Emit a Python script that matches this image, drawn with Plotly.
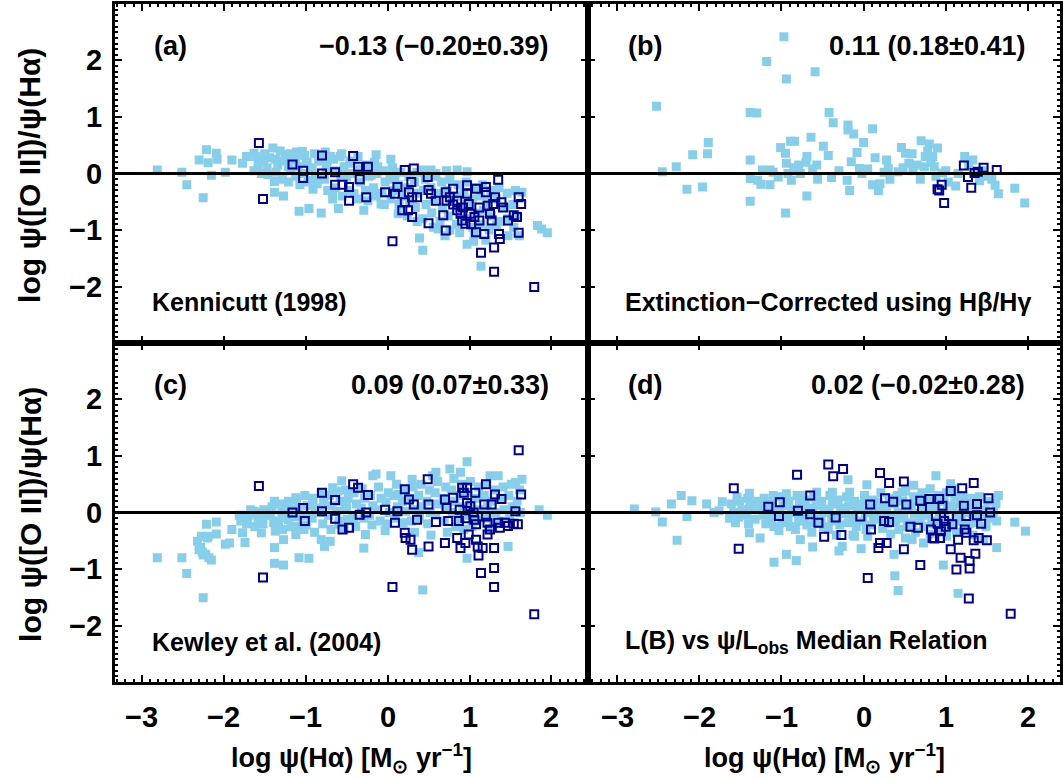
import plotly.graph_objects as go
from plotly.subplots import make_subplots

W, H = 1063, 780

# ---------------------------------------------------------------------------
# Data: (log SFR(Halpha), log SFR([O II])/SFR(Halpha)) pairs per panel.
# "field" = full comparison sample (filled), "deep" = second sample (open).
# ---------------------------------------------------------------------------
A_FIELD = [
    (-2.81, 0.06), (-2.51, 0.02), (-2.45, -0.20), (-2.30, 0.24), (-2.25, -0.43),
    (-2.21, 0.42), (-2.19, 0.19), (-2.15, -0.03), (-2.09, 0.36), (-2.08, 0.25),
    (-1.98, 0.02), (-1.90, 0.24), (-1.77, 0.18), (-1.72, 0.30), (-1.63, 0.36),
    (-1.54, 0.00), (-1.50, 0.35), (-1.40, 0.45), (-1.37, 0.25), (-1.38, -0.14),
    (-1.38, -0.33), (-1.27, -0.40), (-1.25, 0.33), (-1.21, 0.12), (-1.12, 0.24),
    (-1.08, -0.67), (-1.04, 0.39), (-0.96, -0.62), (-0.98, 0.18), (-0.91, -0.12),
    (-0.81, -0.70), (-0.81, 0.30), (-0.75, 0.06), (-0.70, 0.30), (-0.67, -0.36),
    (-0.60, -0.62), (-0.58, 0.30), (-0.54, 0.06), (-0.50, -0.06), (-0.45, 0.18),
    (-0.41, -0.36), (-0.29, -0.65), (-0.24, -0.48), (-0.20, -0.03), (-0.14, 0.33),
    (-0.12, 0.12), (-0.08, -0.54), (0.04, 0.25), (0.05, 0.06), (0.09, -0.06),
    (0.13, -0.71), (0.39, -1.14), (0.43, -1.36), (0.43, 0.06), (0.53, 0.06),
    (0.59, 0.00), (0.62, -0.98), (0.72, 0.05), (0.85, 0.06), (0.97, 0.03),
    (0.97, -1.25), (1.14, -1.64), (1.06, -1.07), (1.33, -0.92), (1.47, -1.10),
    (1.61, -1.10), (1.64, -0.33), (1.83, -0.92), (1.95, -1.05), (1.88, -0.98),
    (-1.61, 0.30), (-1.58, 0.15), (-1.63, 0.05), (-1.51, 0.22), (-1.47, 0.10),
    (-1.44, 0.28), (-1.46, -0.02), (-1.34, 0.15), (-1.36, 0.02), (-1.31, 0.40),
    (-1.29, 0.22), (-1.28, -0.10), (-1.19, 0.35), (-1.22, 0.25), (-1.18, 0.05),
    (-1.21, -0.15), (-1.11, 0.38), (-1.09, 0.12), (-1.12, -0.05), (-1.07, -0.20),
    (-1.01, 0.32), (-0.99, 0.20), (-1.02, 0.00), (-0.97, -0.15), (-0.89, 0.35),
    (-0.92, 0.10), (-0.88, -0.05), (-0.91, -0.28), (-0.84, 0.22), (-0.86, -0.18),
    (-0.76, 0.38), (-0.74, 0.15), (-0.77, -0.10), (-0.73, -0.30), (-0.66, 0.25),
    (-0.63, 0.05), (-0.64, -0.25), (-0.67, -0.45), (-0.56, 0.35), (-0.53, 0.12),
    (-0.57, -0.05), (-0.55, -0.40), (-0.46, 0.22), (-0.43, 0.00), (-0.47, -0.30),
    (-0.36, 0.30), (-0.34, 0.08), (-0.33, -0.15), (-0.37, -0.45), (-0.26, 0.15),
    (-0.23, -0.05), (-0.27, -0.30), (-0.16, 0.20), (-0.13, 0.00), (-0.17, -0.25),
    (-0.14, -0.40), (-0.06, 0.05), (-0.03, -0.15), (-0.07, -0.35), (-0.04, -0.55),
    (0.06, 0.10), (0.03, -0.10), (0.07, -0.30), (0.04, -0.45), (0.16, 0.02),
    (0.13, -0.20), (0.17, -0.40), (0.14, -0.55), (0.26, -0.05), (0.23, -0.25),
    (0.27, -0.50), (0.24, -0.75), (0.36, 0.02), (0.33, -0.15), (0.37, -0.35),
    (0.34, -0.60), (0.36, -0.85), (0.46, -0.10), (0.44, -0.30), (0.47, -0.55),
    (0.43, -0.80), (0.56, -0.05), (0.53, -0.25), (0.57, -0.45), (0.54, -0.70),
    (0.56, -0.95), (0.66, -0.15), (0.63, -0.35), (0.67, -0.60), (0.64, -0.85),
    (0.76, -0.10), (0.73, -0.30), (0.77, -0.50), (0.74, -0.75), (0.76, -1.00),
    (0.86, -0.20), (0.83, -0.40), (0.87, -0.60), (0.84, -0.90), (0.96, -0.15),
    (0.93, -0.35), (0.97, -0.55), (0.94, -0.80), (1.06, -0.25), (1.03, -0.45),
    (1.07, -0.70), (1.04, -0.95), (1.16, -0.20), (1.13, -0.40), (1.17, -0.65),
    (1.14, -0.90), (1.26, -0.30), (1.23, -0.50), (1.27, -0.75), (1.24, -1.00),
    (1.36, -0.25), (1.33, -0.45), (1.37, -0.85), (1.46, -0.35), (1.43, -0.60),
    (1.47, -0.80), (1.56, -0.30), (1.53, -0.55), (1.57, -0.75), (1.54, -0.95),
    (1.05, -1.20), (0.88, -1.05), (0.70, -1.10), (1.20, -1.18),
]

A_DEEP = [
    (-1.57, 0.54), (-1.52, -0.45), (-1.16, 0.16), (-1.03, 0.05), (-1.03, -0.08),
    (-0.80, 0.32), (-0.80, 0.00), (-0.64, 0.02), (-0.64, -0.20), (-0.55, -0.20),
    (-0.47, -0.24), (-0.47, -0.48), (-0.42, 0.31), (-0.36, 0.12), (-0.34, -0.10),
    (-0.24, 0.12), (-0.26, -0.42), (0.06, -1.20), (-0.03, -0.33), (0.09, -0.36),
    (0.12, -0.24), (0.21, 0.06), (0.32, 0.09), (0.21, -0.51), (0.18, -0.65),
    (0.25, -0.65), (0.29, -0.15), (0.26, -0.33), (0.30, -0.42), (0.36, -0.42),
    (0.30, -0.77), (0.49, -0.06), (0.50, -0.29), (0.50, -0.88), (0.53, -0.36),
    (0.59, -0.48), (0.68, -0.74), (0.71, -1.01), (0.71, -0.33), (0.72, -0.48),
    (0.76, -0.42), (0.80, -0.27), (0.85, -0.48), (0.85, -0.65), (0.89, -0.71),
    (0.91, -0.83), (0.95, -0.89), (0.97, -0.21), (0.97, -0.36), (0.99, -0.54),
    (1.01, -0.71), (1.08, -0.27), (1.06, -0.77), (1.12, -0.83), (1.08, -1.04),
    (1.14, -1.40), (1.18, -1.07), (1.20, -0.24), (1.20, -0.33), (1.22, -0.57),
    (1.25, -0.71), (1.27, -0.83), (1.29, -0.54), (1.31, -0.42), (1.30, -1.31),
    (1.30, -1.74), (1.35, -0.11), (1.36, -1.07), (1.37, -1.16), (1.39, -0.51),
    (1.41, -0.60), (1.47, -0.83), (1.54, -0.74), (1.58, -0.77), (1.60, -0.42),
    (1.60, -1.05), (1.63, -0.54), (1.79, -2.01), (0.92, -0.60), (1.02, -0.90),
    (0.80, -0.55), (1.12, -0.60),
]

B_FIELD = [
    (-2.52, 1.19), (-2.45, 0.03), (-2.28, 0.12), (-2.15, -0.28), (-2.08, 0.33),
    (-1.96, -0.24), (-1.90, 0.35), (-1.89, 0.55), (-1.38, 1.08), (-1.30, 1.07),
    (-1.38, 0.24), (-1.38, -0.09), (-1.38, -0.49), (-1.29, -0.12), (-1.25, -0.19),
    (-1.23, 0.06), (-1.18, 1.98), (-1.14, -0.20), (-1.14, 0.06), (-1.04, -0.06),
    (-1.01, 0.46), (-0.97, 2.42), (-0.95, 0.36), (-0.94, 0.18), (-0.94, 1.67),
    (-0.95, -0.70), (-0.92, 0.00), (-0.89, 0.57), (-0.88, -0.12), (-0.84, 0.57),
    (-0.79, 0.15), (-0.77, 0.00), (-0.69, 0.30), (-0.69, -0.40), (-0.64, 0.64),
    (-0.59, 1.80), (-0.57, 0.15), (-0.56, -0.10), (-0.49, 0.48), (-0.43, 0.32),
    (-0.42, 1.08), (-0.39, -0.07), (-0.37, 0.90), (-0.19, 0.86), (-0.19, 0.77),
    (-0.20, -0.12), (-0.17, -0.30), (-0.15, 0.21), (-0.12, 0.70), (-0.08, 0.37),
    (-0.05, 0.09), (0.00, 0.55), (0.11, 0.79), (0.14, 0.28), (0.11, -0.20),
    (0.18, -0.30), (0.20, -0.18), (0.28, 0.24), (0.30, 0.09), (0.32, -0.10),
    (0.42, 0.03), (0.46, 0.46), (0.51, 0.36), (0.55, 0.18), (0.59, 0.35),
    (0.65, 0.15), (0.69, -0.10), (0.70, 0.58), (0.75, 0.30), (0.80, 0.52),
    (0.84, 0.30), (0.86, 0.12), (0.88, -0.05), (0.96, 0.01), (1.03, -0.15),
    (1.12, -0.22), (1.23, 0.30), (1.33, 0.24), (1.41, -0.13), (1.56, -0.10),
    (1.60, -0.21), (1.64, -0.36), (1.84, -0.26), (1.96, -0.52), (-1.10, 0.02),
    (-0.85, 0.10), (-0.62, 0.08), (-0.70, 0.20), (-0.30, 0.05), (-0.02, 0.00),
    (0.05, 0.08), (0.25, 0.02), (0.48, 0.10), (0.60, 0.05), (0.78, 0.40),
    (0.82, 0.20), (1.00, 0.05), (1.15, 0.00), (1.28, 0.15), (1.36, 0.00),
    (1.45, 0.05), (1.50, -0.05), (0.90, 0.45), (0.74, 0.12),
]

B_DEEP = [
    (0.90, -0.28), (0.95, -0.20), (0.98, -0.52), (1.22, 0.14), (1.27, -0.06),
    (1.31, -0.25), (1.35, 0.01), (1.39, 0.03), (1.46, 0.10), (1.62, 0.06),
    (0.92, -0.30),
]

C_FIELD = [
    (-2.81, -0.80), (-2.51, -0.80), (-2.45, -1.08), (-2.25, -1.51), (-2.32, -0.51),
    (-2.30, -0.66), (-2.25, -0.75), (-2.21, -0.21), (-2.19, -0.42), (-2.15, -0.84),
    (-2.09, -0.17), (-2.09, -0.38), (-1.98, -0.56), (-1.90, -0.30), (-1.93, -0.54),
    (-1.77, -0.36), (-1.74, -0.53), (-1.71, -0.10), (-1.63, 0.02), (-1.54, -0.36),
    (-1.50, 0.02), (-1.38, 0.20), (-1.37, -0.33), (-1.38, -0.62), (-1.38, -0.90),
    (-1.27, -0.93), (-1.27, -0.48), (-1.25, 0.11), (-1.21, -0.13), (-1.12, 0.26),
    (-1.12, -0.39), (-1.08, -0.80), (-1.02, -0.30), (-0.96, -0.81), (-0.91, 0.17),
    (-0.81, -0.48), (-0.77, -0.60), (-0.70, -0.51), (-0.67, 0.44), (-0.60, -0.21),
    (-0.56, 0.56), (-0.50, 0.11), (-0.41, -0.13), (-0.29, -0.63), (-0.27, -0.39),
    (-0.18, 0.65), (-0.14, 0.68), (-0.03, -0.32), (0.04, 0.65), (0.13, 0.32),
    (0.30, 0.59), (0.38, -0.71), (0.43, -1.37), (0.55, 0.65), (0.59, 0.71),
    (0.76, 0.77), (0.89, 0.71), (0.97, 0.90), (0.97, -0.81), (1.25, 0.65),
    (1.35, 0.65), (1.47, -0.60), (1.56, 0.53), (1.64, 0.59), (1.85, 0.05),
    (1.95, -0.05), (-2.28, -0.62), (-2.26, -0.70), (-2.22, -0.74), (-2.18, -0.80),
    (-2.27, -0.42), (-2.20, -0.45), (-1.81, -0.05), (-1.79, -0.15), (-1.69, -0.05),
    (-1.72, -0.20), (-1.67, 0.05), (-1.61, 0.00), (-1.58, -0.10), (-1.62, -0.25),
    (-1.51, 0.05), (-1.48, -0.05), (-1.52, -0.20), (-1.41, 0.10), (-1.43, -0.05),
    (-1.39, -0.18), (-1.31, 0.15), (-1.29, 0.00), (-1.33, -0.15), (-1.28, -0.30),
    (-1.21, 0.20), (-1.19, 0.05), (-1.22, -0.10), (-1.18, -0.25), (-1.11, 0.22),
    (-1.09, 0.08), (-1.12, -0.08), (-1.08, -0.25), (-1.01, 0.30), (-0.98, 0.12),
    (-1.02, -0.05), (-0.99, -0.22), (-0.91, 0.25), (-0.88, 0.08), (-0.92, -0.10),
    (-0.89, -0.35), (-0.81, 0.35), (-0.78, 0.18), (-0.82, 0.00), (-0.79, -0.20),
    (-0.71, 0.30), (-0.68, 0.12), (-0.72, -0.05), (-0.69, -0.30), (-0.61, 0.38),
    (-0.58, 0.20), (-0.62, 0.02), (-0.59, -0.15), (-0.51, 0.40), (-0.48, 0.25),
    (-0.52, 0.05), (-0.49, -0.12), (-0.53, -0.30), (-0.41, 0.35), (-0.38, 0.15),
    (-0.42, -0.05), (-0.39, -0.25), (-0.31, 0.42), (-0.28, 0.25), (-0.32, 0.08),
    (-0.29, -0.10), (-0.21, 0.30), (-0.18, 0.12), (-0.22, -0.05), (-0.19, -0.22),
    (-0.11, 0.45), (-0.08, 0.25), (-0.12, 0.05), (-0.09, -0.15), (0.01, 0.35),
    (-0.02, 0.18), (0.02, 0.00), (-0.01, -0.20), (0.11, 0.50), (0.08, 0.30),
    (0.12, 0.10), (0.09, -0.10), (0.21, 0.40), (0.18, 0.20), (0.22, 0.02),
    (0.19, -0.18), (0.31, 0.45), (0.28, 0.25), (0.32, 0.05), (0.29, -0.15),
    (0.33, -0.35), (0.41, 0.50), (0.38, 0.30), (0.42, 0.10), (0.39, -0.10),
    (0.51, 0.40), (0.48, 0.20), (0.52, 0.00), (0.49, -0.20), (0.53, -0.40),
    (0.61, 0.55), (0.58, 0.35), (0.62, 0.15), (0.59, -0.05), (0.71, 0.45),
    (0.68, 0.25), (0.72, 0.05), (0.69, -0.15), (0.73, -0.35), (0.81, 0.60),
    (0.78, 0.40), (0.82, 0.20), (0.79, 0.00), (0.83, -0.25), (0.91, 0.50),
    (0.88, 0.30), (0.92, 0.10), (0.89, -0.10), (0.93, -0.30), (1.01, 0.55),
    (0.98, 0.35), (1.02, 0.15), (0.99, -0.05), (1.03, -0.25), (1.11, 0.45),
    (1.08, 0.25), (1.12, 0.05), (1.09, -0.15), (1.21, 0.50), (1.18, 0.30),
    (1.22, 0.10), (1.19, -0.10), (1.23, -0.30), (1.31, 0.40), (1.28, 0.20),
    (1.32, 0.00), (1.29, -0.20), (1.41, 0.45), (1.38, 0.25), (1.42, 0.05),
    (1.39, -0.15), (1.51, 0.50), (1.48, 0.30), (1.52, 0.10), (1.49, -0.10),
    (1.61, 0.40), (1.58, 0.20), (1.62, 0.00),
]

C_DEEP = [
    (-1.57, 0.47), (-1.52, -1.15), (-1.16, 0.00), (-1.03, 0.08), (-1.01, -0.15),
    (-0.80, 0.35), (-0.80, 0.02), (-0.64, 0.22), (-0.64, -0.11), (-0.55, -0.30),
    (-0.47, -0.27), (-0.42, 0.50), (-0.36, 0.44), (-0.34, -0.04), (-0.24, 0.31),
    (-0.26, 0.00), (0.06, -1.32), (-0.03, 0.05), (0.09, -0.18), (0.12, 0.02),
    (0.21, 0.41), (0.26, 0.23), (0.32, 0.14), (0.21, -0.36), (0.22, -0.45),
    (0.28, -0.48), (0.30, -0.66), (0.36, -0.13), (0.49, 0.59), (0.50, 0.14),
    (0.50, -0.60), (0.59, -0.17), (0.70, -0.54), (0.70, 0.23), (0.72, 0.08),
    (0.74, -0.15), (0.80, 0.26), (0.85, -0.45), (0.87, -0.15), (0.89, -0.63),
    (0.91, 0.44), (0.93, 0.35), (0.95, -0.54), (0.97, 0.44), (0.97, 0.17),
    (0.99, -0.39), (1.01, 0.11), (1.06, -0.13), (1.07, 0.35), (1.08, -0.21),
    (1.08, -0.48), (1.10, -0.60), (1.11, -0.76), (1.14, -1.07), (1.16, -0.63),
    (1.18, 0.14), (1.20, 0.50), (1.20, -0.07), (1.22, -0.39), (1.22, -0.18),
    (1.25, -0.30), (1.27, 0.14), (1.30, -0.98), (1.30, -1.32), (1.30, -0.63),
    (1.31, 0.32), (1.35, -0.18), (1.37, -0.27), (1.39, 0.24), (1.43, -0.18),
    (1.47, -0.24), (1.54, -0.20), (1.56, 0.02), (1.59, -0.21), (1.60, 1.10),
    (1.63, 0.32), (1.79, -1.80), (0.88, 0.05), (1.05, 0.00), (0.95, -0.10),
]

D_FIELD = [
    (-2.79, 0.06), (-2.53, 0.01), (-2.45, -0.17), (-2.34, 0.15), (-2.27, -0.49),
    (-2.22, 0.30), (-2.15, -0.07), (-2.09, 0.21), (-1.91, 0.15), (-1.82, 0.00),
    (-1.76, 0.03), (-1.72, 0.19), (-1.56, -0.18), (-1.54, 0.27), (-1.39, 0.34),
    (-1.39, 0.06), (-1.39, -0.36), (-1.26, -0.45), (-1.23, 0.18), (-1.10, 0.30),
    (-1.09, -0.88), (-1.06, -0.06), (-0.94, -0.74), (-0.94, 0.33), (-0.82, -0.85),
    (-0.77, -0.48), (-0.77, 0.30), (-0.62, -0.61), (-0.57, 0.36), (-0.52, -0.18),
    (-0.44, 0.06), (-0.38, 0.36), (-0.30, -0.68), (-0.26, -0.60), (-0.19, 0.58),
    (-0.17, 0.36), (-0.11, -0.42), (-0.03, -0.64), (0.04, 0.49), (0.05, -0.42),
    (0.18, 0.06), (0.37, -0.74), (0.38, -1.12), (0.42, -1.38), (0.47, 0.36),
    (0.61, 0.48), (0.59, -0.48), (0.73, -0.54), (0.88, 0.65), (0.97, -0.93),
    (1.06, 0.51), (1.08, 0.42), (1.15, -1.43), (1.46, -0.48), (1.62, -0.62),
    (1.64, 0.30), (1.84, -0.17), (1.97, -0.33), (-1.61, 0.15), (-1.58, 0.00),
    (-1.63, -0.10), (-1.51, 0.20), (-1.48, 0.05), (-1.52, -0.08), (-1.41, 0.25),
    (-1.38, 0.10), (-1.42, -0.05), (-1.40, -0.20), (-1.31, 0.20), (-1.28, 0.05),
    (-1.32, -0.12), (-1.21, 0.25), (-1.18, 0.10), (-1.22, -0.05), (-1.19, -0.20),
    (-1.11, 0.20), (-1.08, 0.05), (-1.12, -0.10), (-1.09, -0.25), (-1.01, 0.28),
    (-0.98, 0.12), (-1.02, -0.02), (-0.99, -0.18), (-1.03, -0.32), (-0.91, 0.20),
    (-0.88, 0.05), (-0.92, -0.10), (-0.89, -0.25), (-0.81, 0.30), (-0.78, 0.15),
    (-0.82, 0.00), (-0.79, -0.15), (-0.83, -0.30), (-0.71, 0.22), (-0.68, 0.08),
    (-0.72, -0.08), (-0.69, -0.22), (-0.61, 0.28), (-0.58, 0.12), (-0.62, -0.02),
    (-0.59, -0.18), (-0.63, -0.35), (-0.51, 0.20), (-0.48, 0.05), (-0.52, -0.10),
    (-0.49, -0.25), (-0.41, 0.30), (-0.38, 0.15), (-0.42, 0.00), (-0.39, -0.15),
    (-0.43, -0.30), (-0.31, 0.22), (-0.28, 0.08), (-0.32, -0.08), (-0.29, -0.22),
    (-0.33, -0.40), (-0.21, 0.28), (-0.18, 0.12), (-0.22, -0.02), (-0.19, -0.18),
    (-0.11, 0.20), (-0.08, 0.05), (-0.12, -0.10), (-0.09, -0.25), (-0.13, -0.40),
    (0.01, 0.30), (-0.02, 0.15), (0.02, 0.00), (-0.01, -0.15), (0.03, -0.30),
    (0.11, 0.22), (0.08, 0.08), (0.12, -0.08), (0.09, -0.22), (0.21, 0.35),
    (0.18, 0.18), (0.22, 0.02), (0.19, -0.12), (0.23, -0.28), (0.31, 0.25),
    (0.28, 0.10), (0.32, -0.05), (0.29, -0.20), (0.33, -0.38), (0.41, 0.30),
    (0.38, 0.15), (0.42, 0.00), (0.39, -0.15), (0.43, -0.30), (0.51, 0.38),
    (0.48, 0.20), (0.52, 0.05), (0.49, -0.10), (0.53, -0.25), (0.51, -0.45),
    (0.61, 0.28), (0.58, 0.12), (0.62, -0.02), (0.59, -0.18), (0.63, -0.35),
    (0.71, 0.35), (0.68, 0.20), (0.72, 0.05), (0.69, -0.10), (0.73, -0.25),
    (0.81, 0.42), (0.78, 0.25), (0.82, 0.10), (0.79, -0.05), (0.83, -0.20),
    (0.81, -0.38), (0.91, 0.30), (0.88, 0.15), (0.92, 0.00), (0.89, -0.15),
    (0.93, -0.30), (1.01, 0.35), (0.98, 0.20), (1.02, 0.05), (0.99, -0.10),
    (1.03, -0.25), (1.01, -0.42), (1.11, 0.28), (1.08, 0.12), (1.12, -0.02),
    (1.09, -0.18), (1.13, -0.35), (1.21, 0.30), (1.18, 0.15), (1.22, 0.00),
    (1.19, -0.15), (1.23, -0.30), (1.31, 0.25), (1.28, 0.10), (1.32, -0.05),
    (1.29, -0.20), (1.33, -0.40), (1.41, 0.28), (1.38, 0.12), (1.42, -0.02),
    (1.39, -0.18), (1.51, 0.20), (1.48, 0.05), (1.52, -0.10), (1.49, -0.25),
    (1.61, 0.15), (1.58, 0.00), (1.62, -0.15),
]

D_DEEP = [
    (-1.58, 0.43), (-1.52, -0.64), (-1.16, 0.10), (-1.02, 0.18), (-1.03, -0.06),
    (-0.81, 0.67), (-0.80, 0.03), (-0.65, 0.30), (-0.65, -0.03), (-0.55, -0.18),
    (-0.48, -0.43), (-0.43, 0.85), (-0.37, 0.64), (-0.34, -0.09), (-0.25, 0.77),
    (-0.27, -0.40), (0.05, -1.16), (-0.04, -0.07), (0.09, -0.30), (0.08, 0.14),
    (0.20, 0.70), (0.31, 0.52), (0.26, 0.25), (0.36, 0.19), (0.20, -0.54),
    (0.18, -0.63), (0.28, -0.54), (0.25, -0.15), (0.31, -0.17), (0.49, 0.55),
    (0.52, 0.14), (0.49, -0.65), (0.57, -0.25), (0.69, -0.93), (0.66, -0.27),
    (0.69, 0.21), (0.71, 0.06), (0.80, 0.24), (0.82, -0.30), (0.84, -0.45),
    (0.88, -0.06), (0.92, 0.24), (0.94, -0.33), (0.96, 0.12), (0.98, -0.15),
    (1.04, -0.06), (1.06, 0.38), (1.06, -0.65), (1.08, -0.21), (1.13, -1.01),
    (1.15, -0.48), (1.18, -0.80), (1.20, 0.43), (1.22, 0.12), (1.23, -0.30),
    (1.25, -0.06), (1.25, -0.36), (1.28, -1.52), (1.29, -0.99), (1.29, -0.86),
    (1.34, 0.52), (1.34, -0.49), (1.36, -0.73), (1.38, 0.15), (1.38, -0.05),
    (1.40, -0.45), (1.43, -0.20), (1.50, -0.49), (1.52, 0.25), (1.54, 0.00),
    (1.79, -1.79), (0.93, -0.45), (0.86, -0.46), (1.00, -0.25), (0.90, -0.20),
]

PANEL_TAGS = ["(a)", "(b)", "(c)", "(d)"]
PANEL_STATS = ["−0.13 (−0.20±0.39)", "0.11 (0.18±0.41)",
               "0.09 (0.07±0.33)", "0.02 (−0.02±0.28)"]
PANEL_NOTES = ["Kennicutt (1998)", "Extinction−Corrected using Hβ/Hγ",
               "Kewley et al. (2004)", "L(B) vs ψ/L<sub>obs</sub> Median Relation"]
X_TICKS = [-3, -2, -1, 0, 1, 2]
Y_TICKS = [-2, -1, 0, 1, 2]

LIGHT = "rgb(135,206,235)"
NAVY = "rgb(0,0,140)"
FONT = "Liberation Sans"

# pixel layout of the 2x2 grid
LEFT, MID, RIGHT = 115, 590, 1063
TOP, HMID, BOT = 4, 343, 682

fig = make_subplots(rows=2, cols=2, horizontal_spacing=0, vertical_spacing=0)

panels = [(A_FIELD, A_DEEP, 1, 1), (B_FIELD, B_DEEP, 1, 2),
          (C_FIELD, C_DEEP, 2, 1), (D_FIELD, D_DEEP, 2, 2)]
for field, deep, r, c in panels:
    fx, fy = zip(*field)
    dx, dy = zip(*deep)
    fig.add_trace(go.Scatter(x=fx, y=fy, mode="markers", showlegend=False,
                             marker=dict(symbol="square", size=9, color=LIGHT,
                                         line=dict(width=0))), row=r, col=c)
    fig.add_trace(go.Scatter(x=dx, y=dy, mode="markers", showlegend=False,
                             marker=dict(symbol="square-open", size=8,
                                         color=NAVY, line=dict(width=2, color=NAVY))),
                  row=r, col=c)

tickfont = dict(family=FONT, size=29, color="black", weight="bold")
axis_style = dict(showline=True, linecolor="black", linewidth=3, mirror="allticks",
                  ticks="inside", ticklen=7, tickwidth=2, tickcolor="black",
                  showgrid=False, zeroline=False, showticklabels=False,
                  tick0=0, dtick=1,
                  minor=dict(ticks="inside", ticklen=3, tickwidth=1.5,
                             tickcolor="black", dtick=0.1, showgrid=False))

xdom_l = [LEFT / W, MID / W]
xdom_r = [MID / W, RIGHT / W]
ydom_t = [(H - HMID) / H, (H - TOP) / H]
ydom_b = [(H - BOT) / H, (H - HMID) / H]

for xd, yd, xr, row, col in [
        (xdom_l, ydom_t, [-3.33, 2.45], 1, 1),
        (xdom_r, ydom_t, [-3.35, 2.39], 1, 2),
        (xdom_l, ydom_b, [-3.33, 2.45], 2, 1),
        (xdom_r, ydom_b, [-3.35, 2.39], 2, 2)]:
    fig.update_xaxes(axis_style, domain=xd, range=xr, row=row, col=col)
    fig.update_yaxes(axis_style, domain=yd, range=[-2.999, 2.999],
                     row=row, col=col)


def fmt(v):
    return f"{v}".replace("-", "−")


# x tick labels of the bottom row, placed on the data axes below the frame
for xref in ["x3", "x4"]:
    for v in X_TICKS:
        fig.add_annotation(text=fmt(v), x=v, xref=xref, y=1 - 717 / H,
                           yref="paper", showarrow=False, xanchor="center",
                           yanchor="middle", font=tickfont)

# y tick labels of the left column, right-aligned against the frame
for yref in ["y", "y3"]:
    for v in Y_TICKS:
        fig.add_annotation(text=fmt(v), y=v, yref=yref, x=104 / W,
                           xref="paper", showarrow=False, xanchor="right",
                           yanchor="middle", font=tickfont)

# zero reference lines drawn over the points
for n in ["", "2", "3", "4"]:
    fig.add_shape(type="line", xref=f"x{n} domain", yref=f"y{n}", x0=0, x1=1,
                  y0=0, y1=0, line=dict(color="black", width=3), layer="above")

ann_font = dict(family=FONT, color="black", weight="bold")
tag_pos = [(171, 46), (647, 46), (171, 385), (647, 385)]
stat_pos = [(553, 46), (1030, 46), (553, 385), (1030, 385)]
note_pos = [(150, 302), (625, 302), (150, 642), (625, 642)]
for i in range(4):
    tx, ty = tag_pos[i]
    fig.add_annotation(text=PANEL_TAGS[i], x=tx / W, y=1 - ty / H, xref="paper",
                       yref="paper", showarrow=False, xanchor="center",
                       yanchor="middle", font=dict(ann_font, size=27))
    sx, sy = stat_pos[i]
    fig.add_annotation(text=PANEL_STATS[i], x=sx / W, y=1 - sy / H, xref="paper",
                       yref="paper", showarrow=False, xanchor="right",
                       yanchor="middle", font=dict(ann_font, size=27))
    nx, ny = note_pos[i]
    fig.add_annotation(text=PANEL_NOTES[i], x=nx / W, y=1 - ny / H, xref="paper",
                       yref="paper", showarrow=False, xanchor="left",
                       yanchor="middle", font=dict(ann_font, size=25))

ytitle = "log ψ([O II])/ψ(Hα)"
for cy in [175, 514]:
    fig.add_annotation(text=ytitle, x=30 / W, y=1 - cy / H, xref="paper",
                       yref="paper", showarrow=False, textangle=-90,
                       xanchor="center", yanchor="middle",
                       font=dict(ann_font, size=30))

xtitle = "log ψ(Hα) [M<sub>⊙</sub> yr<sup>−1</sup>]"
for cx in [352, 827]:
    fig.add_annotation(text=xtitle, x=cx / W, y=1 - 758 / H, xref="paper",
                       yref="paper", showarrow=False, xanchor="center",
                       yanchor="middle", font=dict(ann_font, size=27))

fig.update_layout(width=W, height=H, autosize=False,
                  margin=dict(l=0, r=0, t=0, b=0, pad=0),
                  paper_bgcolor="white", plot_bgcolor="white")

fig.write_html("out.html")
